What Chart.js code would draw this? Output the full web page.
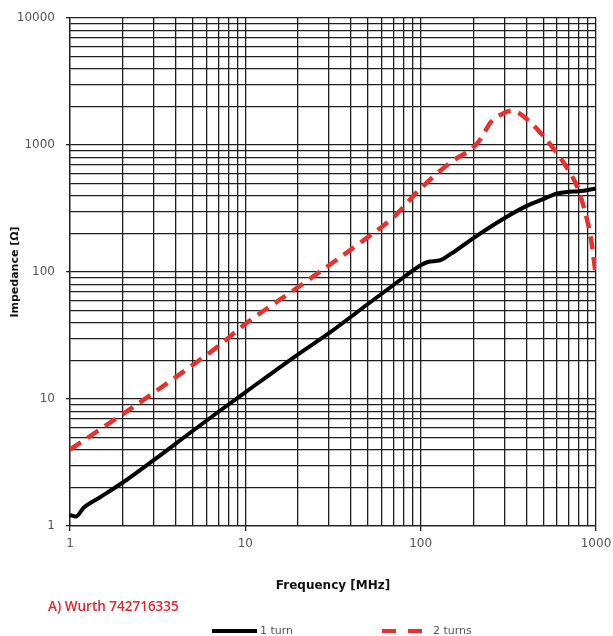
<!DOCTYPE html>
<html>
<head>
<meta charset="utf-8">
<script src="https://cdn.jsdelivr.net/npm/chart.js@4.4.1/dist/chart.umd.min.js"></script>
<style>
  html, body { margin: 0; padding: 0; background: #fff; }
  #wrap { width: 613px; height: 636px; }
</style>
</head>
<body>
<div id="wrap"><canvas id="impedance"></canvas></div>
<script>
// DATA
const freqOneTurn = [1, 1.08, 1.2, 1.5, 2, 3, 5, 7, 10, 20, 30, 50, 70, 100, 110, 130, 150, 200, 300, 400, 500, 600, 700, 800, 1000];
const impOneTurn = [1.22, 1.19, 1.4, 1.7, 2.2, 3.3, 5.6, 7.9, 11.3, 22.5, 33, 56, 79, 113, 120, 124, 140, 185, 265, 330, 375, 415, 428, 432, 455];

const freqTwoTurns = [1, 2, 3, 5, 7, 10, 20, 30, 50, 70, 100, 150, 200, 220, 250, 300, 330, 360, 420, 500, 600, 670, 750, 800, 900, 950, 1000];
const impTwoTurns = [4.0, 7.6, 11.2, 18.5, 26, 39, 76, 113, 188, 270, 455, 740, 960, 1120, 1500, 1790, 1860, 1800, 1520, 1180, 860, 690, 530, 430, 240, 160, 90];

const seriesNames = ["1 turn", "2 turns"];
const freqTicks = [1, 2, 3, 4, 5, 6, 7, 8, 9, 10, 20, 30, 40, 50, 60, 70, 80, 90, 100, 200, 300, 400, 500, 600, 700, 800, 900, 1000];
const impTicks = [1, 2, 3, 4, 5, 6, 7, 8, 9, 10, 20, 30, 40, 50, 60, 70, 80, 90, 100, 200, 300, 400, 500, 600, 700, 800, 900,
  1000, 2000, 3000, 4000, 5000, 6000, 7000, 8000, 9000, 10000];
const partLabel = "A) Wurth 742716335";

const gridColor = "#1e1e1e";
const isDecade = (v) => Math.abs(Math.log10(v) - Math.round(Math.log10(v))) < 1e-9;

const toPoints = (xs, ys) => xs.map((x, i) => ({ x: x, y: ys[i] }));

// red part label + legend under the axis
const bottomNotes = {
  id: "bottomNotes",
  afterDraw(chart) {
    const ctx = chart.ctx;
    ctx.save();
    ctx.textBaseline = "middle";
    ctx.font = '600 13.5px "Open Sans"';
    ctx.fillStyle = "#e3242b";
    ctx.fillText(partLabel, 48, 607);

    const items = [
      { x0: 212, x1: 257, tx: 260 },
      { x0: 382, x1: 426, tx: 433 },
    ];
    chart.data.datasets.forEach((ds, i) => {
      const it = items[i];
      ctx.beginPath();
      ctx.strokeStyle = ds.borderColor;
      ctx.lineWidth = 4;
      ctx.setLineDash(ds.borderDash && ds.borderDash.length ? [14, 12] : []);
      ctx.moveTo(it.x0, 631);
      ctx.lineTo(it.x1, 631);
      ctx.stroke();
      ctx.setLineDash([]);
      ctx.font = '11px "DejaVu Sans"';
      ctx.fillStyle = "#555";
      ctx.fillText(ds.label, it.tx, 631);
    });
    ctx.restore();
  },
};

const impedanceConfig = {
  type: "line",
  data: {
    datasets: [
      {
        label: seriesNames[0],
        data: toPoints(freqOneTurn, impOneTurn),
        borderColor: "#000000",
        borderWidth: 4,
        pointRadius: 0,
        cubicInterpolationMode: "monotone",
      },
      {
        label: seriesNames[1],
        data: toPoints(freqTwoTurns, impTwoTurns),
        borderColor: "#e8302f",
        borderWidth: 4.5,
        borderDash: [13, 8],
        pointRadius: 0,
        cubicInterpolationMode: "monotone",
      },
    ],
  },
  options: {
    responsive: true,
    maintainAspectRatio: false,
    animation: false,
    layout: { padding: { top: 18, right: 17, bottom: 40, left: 0 } },
    plugins: {
      legend: { display: false },
      tooltip: { enabled: false },
    },
    scales: {
      x: {
        type: "logarithmic",
        min: 1,
        max: 1000,
        afterBuildTicks: (scale) => { scale.ticks = freqTicks.map((v) => ({ value: v })); },
        afterFit: (scale) => {
          scale.height = 70;
          scale.paddingLeft = 0;
          scale.paddingRight = 0;
        },
        ticks: {
          autoSkip: false,
          maxRotation: 0,
          padding: 6,
          color: "#555",
          font: { family: "DejaVu Sans", size: 12 },
          callback: (v) => (isDecade(v) ? String(v) : ""),
        },
        grid: {
          color: gridColor,
          lineWidth: 1.3,
          tickLength: 5,
          tickColor: (c) => (c.tick && isDecade(c.tick.value) ? gridColor : "rgba(0,0,0,0)"),
        },
        border: { color: gridColor, width: 1.3 },
        title: {
          display: true,
          text: "Frequency [MHz]",
          color: "#111",
          font: { family: "DejaVu Sans", size: 12, weight: "bold" },
          padding: { top: 0, bottom: 3 },
        },
      },
      y: {
        type: "logarithmic",
        min: 1,
        max: 10000,
        afterBuildTicks: (scale) => { scale.ticks = impTicks.map((v) => ({ value: v })); },
        afterFit: (scale) => {
          scale.width = 70;
          scale.paddingTop = 0;
          scale.paddingBottom = 0;
        },
        ticks: {
          autoSkip: false,
          padding: 11,
          color: "#555",
          font: { family: "DejaVu Sans", size: 12 },
          callback: (v) => (isDecade(v) ? String(v) : ""),
        },
        grid: {
          color: gridColor,
          lineWidth: 1.3,
          tickLength: 4,
          tickColor: (c) => (c.tick && isDecade(c.tick.value) ? gridColor : "rgba(0,0,0,0)"),
        },
        border: { color: gridColor, width: 1.3 },
        title: {
          display: true,
          text: "Impedance [Ω]",
          color: "#111",
          font: { family: "DejaVu Sans", size: 11, weight: "bold" },
          padding: { top: 9, bottom: 0 },
        },
      },
    },
  },
  plugins: [bottomNotes],
};

const impedanceCtx = document.getElementById("impedance").getContext("2d");
const impedanceChart = new Chart(impedanceCtx, impedanceConfig);
</script>
</body>
</html>
